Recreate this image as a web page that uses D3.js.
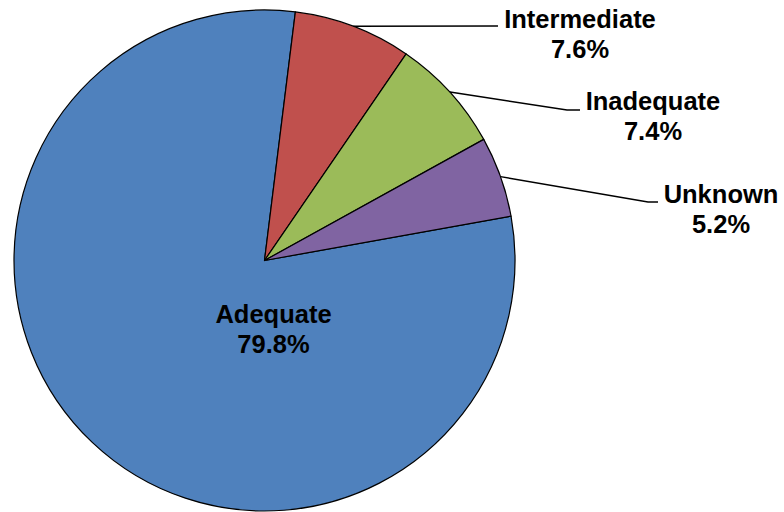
<!DOCTYPE html>
<html><head><meta charset="utf-8">
<script src="https://cdn.jsdelivr.net/npm/d3@7"></script>
<style>html,body{margin:0;padding:0;background:#fff;}svg{display:block;}</style>
</head><body>
<svg id="chart" width="784" height="512"></svg>
<script>
const categories = ["Adequate", "Intermediate", "Inadequate", "Unknown"];
const values = [79.8, 7.6, 7.4, 5.2];
const colors = ["#4F81BD", "#C0504D", "#9BBB59", "#8064A2"];

const svg = d3.select("#chart");
const cx = 264.5, cy = 260.5, r = 250.5;
const start = 79.8 * Math.PI / 180;

const pie = d3.pie().sort(null).value(d => d.v).startAngle(start).endAngle(start + 2 * Math.PI);
const data = categories.map((c, i) => ({c, v: values[i], col: colors[i]}));
const arcs = pie(data);
const arc = d3.arc().innerRadius(0).outerRadius(r);

const g = svg.append("g").attr("transform", `translate(${cx},${cy})`);
g.selectAll("path").data(arcs).enter().append("path")
  .attr("d", arc).attr("fill", d => d.data.col)
  .attr("stroke", "#000").attr("stroke-width", 1.2).attr("stroke-linejoin", "round");

// label layout (positions in page coordinates)
const layout = {
  "Adequate": {x: 273.5, y: 322.5, line: null},
  "Intermediate": {x: 580, y: 28.3, line: [[498, 26]]},
  "Inadequate": {x: 653, y: 110, line: [[567, 110], [580, 110]]},
  "Unknown": {x: 721, y: 203, line: [[648, 202], [658, 202]]}
};

const fmt = v => v.toFixed(1) + "%";
arcs.forEach(a => {
  const L = layout[a.data.c];
  if (L.line) {
    const mid = (a.startAngle + a.endAngle) / 2;
    const p0 = [cx + r * Math.sin(mid), cy - r * Math.cos(mid)];
    svg.append("path")
      .attr("d", d3.line()([p0, ...L.line]))
      .attr("fill", "none").attr("stroke", "#000").attr("stroke-width", 1.5);
  }
  const t = svg.append("text")
    .attr("text-anchor", "middle")
    .attr("font-family", "Liberation Sans, Arial, sans-serif")
    .attr("font-weight", "bold").attr("font-size", 25.5).attr("fill", "#000");
  t.append("tspan").attr("x", L.x).attr("y", L.y).text(a.data.c);
  t.append("tspan").attr("x", L.x).attr("y", L.y + 30).text(fmt(a.data.v));
});
</script>
</body></html>
